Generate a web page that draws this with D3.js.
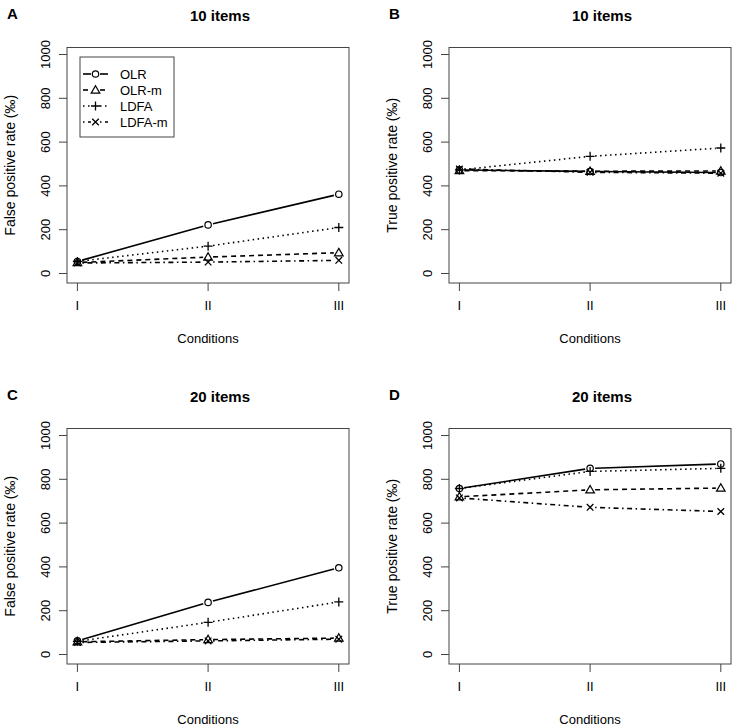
<!DOCTYPE html>
<html>
<head>
<meta charset="utf-8">
<script src="https://cdn.jsdelivr.net/npm/d3@7"></script>
<style>
  body { margin: 0; background: #fff; }
  text { font-family: "Liberation Sans", Arial, sans-serif; fill: #000; }
</style>
</head>
<body>
<svg id="chart" width="737" height="728"></svg>
<script>
// categories and series (rates in per mille), one row per method
var conditions = ["I", "II", "III"];
var methods = ["OLR", "OLR-m", "LDFA", "LDFA-m"];
var yTicks = [0, 200, 400, 600, 800, 1000];

var fpr10 = [[55, 222, 362], [50, 75, 95], [55, 125, 210], [48, 52, 60]];
var tpr10 = [[473, 466, 461], [470, 467, 468], [473, 535, 573], [477, 462, 458]];
var fpr20 = [[62, 238, 396], [58, 68, 75], [60, 147, 240], [55, 62, 70]];
var tpr20 = [[758, 850, 870], [720, 752, 760], [758, 836, 850], [715, 672, 653]];

var panelLetters = ["A", "B", "C", "D"];
var panelTitles = ["10 items", "10 items", "20 items", "20 items"];
var panelYLabels = ["False positive rate (\u2030)", "True positive rate (\u2030)",
                    "False positive rate (\u2030)", "True positive rate (\u2030)"];

var panels = [
    {data: fpr10, dx: 0,   dy: 0,   legend: true},
    {data: tpr10, dx: 382, dy: 0,   legend: false},
    {data: fpr20, dx: 0,   dy: 381, legend: false},
    {data: tpr20, dx: 382, dy: 381, legend: false}
];

// line types like R lty 1..4
var dashes = [null, "5,4", "1.5,3.5", "1.5,3.5,5,3.5"];

var svg = d3.select("#chart");

var box = {left: 67, right: 349, top: 47.5, bottom: 283};

var x = d3.scalePoint()
    .domain(conditions)
    .range([77.4, 338.8]);

var y = d3.scaleLinear()
    .domain([0, 1000])
    .range([273.5, 54.5]);

function drawMarker(g, k, cx, cy) {
    if (k == 0) {
        g.append("circle").attr("cx", cx).attr("cy", cy).attr("r", 3.2)
            .attr("fill", "none").attr("stroke", "#000").attr("stroke-width", 1.2);
    } else if (k == 1) {
        var s = 4.3;
        g.append("path")
            .attr("d", "M" + cx + "," + (cy - s) + "L" + (cx + s) + "," + (cy + s * 0.72) +
                "L" + (cx - s) + "," + (cy + s * 0.72) + "Z")
            .attr("fill", "none").attr("stroke", "#000").attr("stroke-width", 1.2);
    } else if (k == 2) {
        var p = 4.5;
        g.append("path")
            .attr("d", "M" + (cx - p) + "," + cy + "H" + (cx + p) + "M" + cx + "," + (cy - p) + "V" + (cy + p))
            .attr("stroke", "#000").attr("stroke-width", 1.3);
    } else {
        var q = 3.3;
        g.append("path")
            .attr("d", "M" + (cx - q) + "," + (cy - q) + "L" + (cx + q) + "," + (cy + q) +
                "M" + (cx - q) + "," + (cy + q) + "L" + (cx + q) + "," + (cy - q))
            .attr("stroke", "#000").attr("stroke-width", 1.3);
    }
}

panels.forEach(function(p, i) {
    var g = svg.append("g").attr("transform", "translate(" + p.dx + "," + p.dy + ")");

    g.append("text")
        .attr("x", 7).attr("y", 19)
        .style("font-weight", "bold").style("font-size", "15px")
        .text(panelLetters[i]);

    g.append("text")
        .attr("x", (box.left + box.right) / 2 + 12).attr("y", 21)
        .attr("text-anchor", "middle")
        .style("font-weight", "bold").style("font-size", "15px")
        .text(panelTitles[i]);

    g.append("rect")
        .attr("x", box.left).attr("y", box.top)
        .attr("width", box.right - box.left).attr("height", box.bottom - box.top)
        .attr("fill", "none").attr("stroke", "#444").attr("stroke-width", 1);

    // y axis
    var ya = g.append("g");
    ya.selectAll("line").data(yTicks).enter().append("line")
        .attr("x1", box.left - 8).attr("x2", box.left)
        .attr("y1", function(d) { return y(d); })
        .attr("y2", function(d) { return y(d); })
        .attr("stroke", "#444");
    ya.selectAll("text").data(yTicks).enter().append("text")
        .attr("transform", function(d) { return "translate(50," + y(d) + ") rotate(-90)"; })
        .attr("text-anchor", "middle")
        .style("font-size", "13px")
        .text(function(d) { return d; });

    // x axis
    var xa = g.append("g");
    xa.selectAll("line").data(conditions).enter().append("line")
        .attr("x1", function(d) { return x(d); })
        .attr("x2", function(d) { return x(d); })
        .attr("y1", box.bottom).attr("y2", box.bottom + 8)
        .attr("stroke", "#444");
    xa.selectAll("text").data(conditions).enter().append("text")
        .attr("x", function(d) { return x(d); })
        .attr("y", 310)
        .attr("text-anchor", "middle")
        .style("font-size", "13px")
        .text(function(d) { return d; });

    g.append("text")
        .attr("x", (box.left + box.right) / 2).attr("y", 343)
        .attr("text-anchor", "middle")
        .style("font-size", "13px")
        .text("Conditions");

    g.append("text")
        .attr("transform", "translate(15," + (box.top + box.bottom) / 2 + ") rotate(-90)")
        .attr("text-anchor", "middle")
        .style("font-size", "14px")
        .text(panelYLabels[i]);

    // series: lines with gaps around the points (type "b")
    var gap = 5;
    p.data.forEach(function(vals, k) {
        var pts = vals.map(function(v, j) { return [x(conditions[j]), y(v)]; });
        for (var j = 0; j < pts.length - 1; j++) {
            var a = pts[j], b = pts[j + 1];
            var len = Math.hypot(b[0] - a[0], b[1] - a[1]);
            var ux = (b[0] - a[0]) / len, uy = (b[1] - a[1]) / len;
            g.append("line")
                .attr("x1", a[0] + ux * gap).attr("y1", a[1] + uy * gap)
                .attr("x2", b[0] - ux * gap).attr("y2", b[1] - uy * gap)
                .attr("stroke", "#000").attr("stroke-width", 1.6)
                .attr("stroke-dasharray", dashes[k]);
        }
        pts.forEach(function(pt) { drawMarker(g, k, pt[0], pt[1]); });
    });

    if (p.legend) {
        var lg = g.append("g");
        lg.append("rect")
            .attr("x", 80).attr("y", 57).attr("width", 94).attr("height", 80)
            .attr("fill", "#fff").attr("stroke", "#444");
        methods.forEach(function(m, k) {
            var ly = 74 + k * 16;
            lg.append("line").attr("x1", 83).attr("x2", 91).attr("y1", ly).attr("y2", ly)
                .attr("stroke", "#000").attr("stroke-width", 1.6).attr("stroke-dasharray", dashes[k]);
            lg.append("line").attr("x1", 100).attr("x2", 108).attr("y1", ly).attr("y2", ly)
                .attr("stroke", "#000").attr("stroke-width", 1.6).attr("stroke-dasharray", dashes[k]);
            drawMarker(lg, k, 95.5, ly);
            lg.append("text")
                .attr("x", 120).attr("y", ly + 4.5)
                .style("font-size", "13px")
                .text(m);
        });
    }
});
</script>
</body>
</html>
